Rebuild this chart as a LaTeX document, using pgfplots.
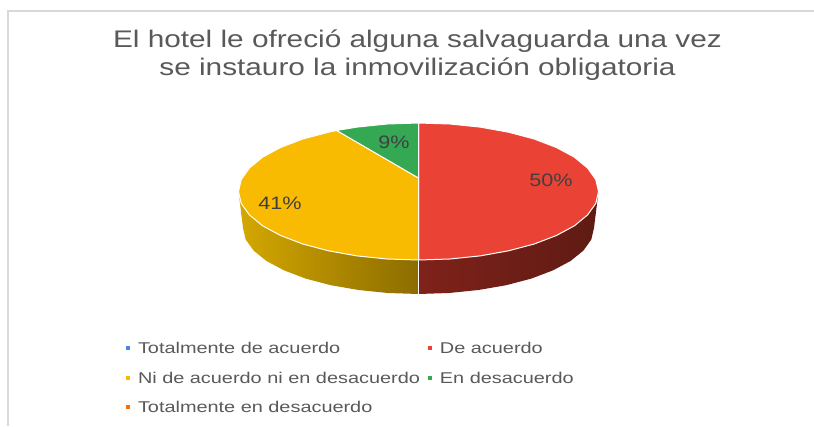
\documentclass[border=0pt]{standalone}
\usepackage{fontspec}
\usepackage{pgfplots}
\pgfplotsset{compat=1.18}
\setmainfont{Liberation Sans}
\newfontfamily\titlefont[FakeStretch=1.24]{Liberation Sans}
\newfontfamily\labelfont[FakeStretch=1.2]{Liberation Sans}
\newfontfamily\legfont[FakeStretch=1.275]{Liberation Sans}
\definecolor{cBlue}{HTML}{4285F4}
\definecolor{cRed}{HTML}{EA4335}
\definecolor{cYellow}{HTML}{F9BA02}
\definecolor{cGreen}{HTML}{34A853}
\definecolor{cOrange}{HTML}{FF6D01}
\definecolor{cText}{HTML}{595959}
\definecolor{cLabel}{HTML}{404040}
\definecolor{cFrame}{HTML}{D9D9D9}
\definecolor{sYellowA}{HTML}{D4A800}
\definecolor{sYellowB}{HTML}{8C6C00}
\definecolor{sRedA}{HTML}{7F221A}
\definecolor{sRedB}{HTML}{4F130E}
\definecolor{sRedC}{HTML}{5E1B13}

\begin{document}
\begin{tikzpicture}[x=1pt,y=1pt]
\path[use as bounding box] (0,0) rectangle (814,426);
\begin{axis}[
  at={(0,0)}, anchor=south west,
  scale only axis, width=814pt, height=426pt,
  xmin=0, xmax=814, ymin=0, ymax=426,
  y dir=reverse,
  hide axis,
  clip=false,
  title={El hotel le ofreció alguna salvaguarda una vez\\se instauro la inmovilización obligatoria},
  title style={at={(axis cs:417.5,35.5)}, anchor=north, align=center, text=cText, inner sep=0pt,
    font=\titlefont\fontsize{24}{28}\selectfont},
  legend image code/.code={\fill[#1] (0pt,3.5pt) rectangle (4pt,7.5pt);},
  legend columns=2,
  legend cell align=left,
  legend style={
    at={(axis cs:126,342.5)}, anchor=north west,
    draw=none, fill=none, inner sep=0pt, outer sep=0pt,
    font=\legfont\fontsize{15.6}{18}\selectfont, text=cText,
    row sep=16.5pt,
    /tikz/column 1/.style={column sep=8pt},
    /tikz/column 2/.style={column sep=8pt},
    /tikz/column 3/.style={column sep=8pt},
    nodes={inner sep=0pt, anchor=base west},
  },
]
% frame
\addplot[forget plot, cFrame, line width=1.8pt] coordinates {(8.3,426) (8.3,11) (814,11)};

% sides
\addplot[forget plot, draw=none, left color=sYellowA, right color=sYellowB] coordinates {
  (238.5,191.5) (241.2,203.4) (249.4,214.9) (262.6,225.8) (280.6,235.5) (302.8,244.0)
  (328.5,250.8) (356.9,255.9) (387.2,259.0) (418.5,260)
  (418.5,294) (388,293) (358.5,290) (330.75,285.2) (305.7,278.6) (284.1,270.4)
  (266.5,261) (253.6,250.6) (245.7,239.5) (243,228) (238.5,191.5)};
\addplot[forget plot, draw=none, left color=sRedA, middle color=sRedB, right color=sRedC] coordinates {
  (418.5,260) (449.8,259.0) (480.1,255.9) (508.5,250.8) (534.2,244.0) (556.4,235.5)
  (574.4,225.8) (587.6,214.9) (595.8,203.4) (598.5,191.5)
  (594,228) (591.3,239.5) (583.4,250.6) (570.5,261) (552.9,270.4) (531.3,278.6)
  (506.25,285.2) (478.5,290) (449,293) (418.5,294) (418.5,260)};
\addplot[forget plot, white, line width=1.2pt] coordinates {(418.5,260) (418.5,294)};

% top face
\addplot[forget plot, fill=cRed, draw=white, line width=1pt] coordinates {
  (418.5,178) (418.5,123) (449.8,124.0) (480.1,127.1) (508.5,132.2) (534.2,139.0) (556.4,147.5)
  (574.4,157.2) (587.6,168.1) (595.8,179.6) (598.5,191.5) (595.8,203.4) (587.6,214.9)
  (574.4,225.8) (556.4,235.5) (534.2,244.0) (508.5,250.8) (480.1,255.9) (449.8,259.0)
  (418.5,260) (418.5,178)};
\addplot[forget plot, fill=cYellow, draw=white, line width=1pt] coordinates {
  (418.5,178) (418.5,260) (387.2,259.0) (356.9,255.9) (328.5,250.8) (302.8,244.0) (280.6,235.5)
  (262.6,225.8) (249.4,214.9) (241.2,203.4) (238.5,191.5) (241.2,179.6) (249.4,168.1)
  (262.6,157.2) (280.6,147.5) (302.8,139.0) (328.5,132.2) (336.7,130.5) (418.5,178)};
\addplot[forget plot, fill=cGreen, draw=white, line width=1pt] coordinates {
  (418.5,178) (336.7,130.5) (356.9,127.1) (387.2,124.0) (418.5,123) (418.5,178)};

% data labels
\node[text=cLabel, font=\labelfont\fontsize{18}{20}\selectfont] at (axis cs:551,180) {50\%};
\node[text=cLabel, font=\labelfont\fontsize{18}{20}\selectfont] at (axis cs:280,203) {41\%};
\node[text=cLabel, font=\labelfont\fontsize{18}{20}\selectfont] at (axis cs:394,142) {9\%};

% legend
\addlegendimage{fill=cBlue, draw=none}
\addlegendimage{fill=cRed, draw=none}
\addlegendimage{fill=cYellow, draw=none}
\addlegendimage{fill=cGreen, draw=none}
\addlegendimage{fill=cOrange, draw=none}
\legend{Totalmente de acuerdo, De acuerdo, Ni de acuerdo ni en desacuerdo, En desacuerdo, Totalmente en desacuerdo}
\end{axis}
\end{tikzpicture}
\end{document}
